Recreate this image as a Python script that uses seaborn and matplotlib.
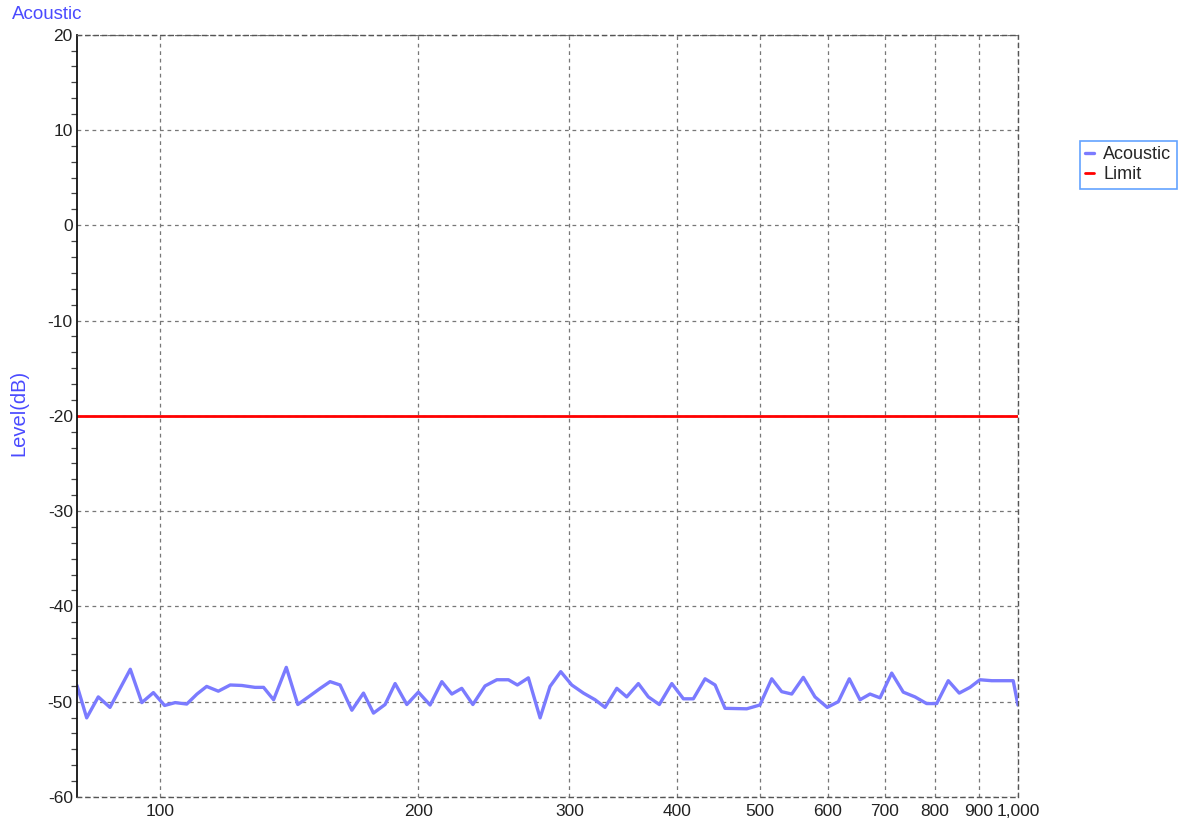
import matplotlib
matplotlib.use("Agg")
import matplotlib.pyplot as plt
from matplotlib.ticker import FixedLocator, FixedFormatter, MultipleLocator, NullLocator
import seaborn as sns
import pandas as pd

# Measured acoustic response (Hz, dB)
freq_hz = [80.0, 82.1, 84.7, 87.4, 92.3, 95.2, 98.2, 101.2, 104.1, 107.4,
           110.4, 113.3, 116.9, 120.7, 124.5, 129.0, 132.0, 135.6, 140.3, 144.7,
           148.9, 153.7, 157.8, 162.1, 167.3, 172.6, 177.3, 182.9, 187.9, 193.9,
           200.0, 206.4, 213.0, 218.8, 224.7, 231.5, 239.2, 246.9, 254.7, 260.9,
           268.7, 277.3, 284.8, 293.1, 301.9, 311.5, 321.4, 330.1, 340.7, 349.9,
           361.0, 370.8, 381.9, 394.9, 407.4, 418.4, 431.8, 443.6, 455.6, 482.9,
           500.3, 516.4, 530.4, 544.9, 562.1, 580.0, 599.4, 617.5, 636.0, 654.5,
           672.3, 690.6, 712.6, 735.1, 758.6, 782.7, 804.1, 829.5, 854.3, 879.3,
           903.1, 932.0, 987.4, 1000.0]
level_db = [-48.3, -51.7, -49.5, -50.6, -46.6, -50.1, -49.05, -50.4, -50.1, -50.25,
            -49.2, -48.4, -48.9, -48.25, -48.3, -48.5, -48.5, -49.8, -46.4, -50.3,
            -49.5, -48.6, -47.9, -48.25, -50.9, -49.1, -51.2, -50.3, -48.1, -50.3,
            -49.0, -50.35, -47.9, -49.2, -48.6, -50.3, -48.35, -47.7, -47.7, -48.25,
            -47.5, -51.7, -48.4, -46.85, -48.25, -49.1, -49.8, -50.6, -48.6, -49.5,
            -48.1, -49.5, -50.3, -48.1, -49.7, -49.7, -47.6, -48.25, -50.7, -50.75,
            -50.35, -47.6, -48.95, -49.2, -47.45, -49.5, -50.6, -50.0, -47.6, -49.8,
            -49.2, -49.6, -47.0, -49.0, -49.5, -50.2, -50.2, -47.8, -49.1, -48.5,
            -47.7, -47.8, -47.8, -50.35]

limit_db = -20.0
x_ticks = [100, 200, 300, 400, 500, 600, 700, 800, 900, 1000]
x_tick_labels = ["100", "200", "300", "400", "500", "600", "700", "800", "900", "1,000"]
y_ticks = [-60, -50, -40, -30, -20, -10, 0, 10, 20]

sns.set_style("white")
plt.rcParams["font.family"] = ["Liberation Sans", "DejaVu Sans"]
plt.rcParams["axes.unicode_minus"] = False

fig = plt.figure(figsize=(11.85, 8.25), dpi=100)
ax = fig.add_axes([0.065, 0.034, 0.794, 0.924])

df = pd.DataFrame({"Frequency": freq_hz, "Level": level_db})
sns.lineplot(data=df, x="Frequency", y="Level", ax=ax, color="#7B7BFF",
             linewidth=2.4, label="Acoustic")
ax.axhline(limit_db, color="#FF0000", linewidth=2.0, label="Limit")

ax.set_xscale("log")
ax.set_xlim(80, 1000)
ax.set_ylim(-60, 20)
ax.xaxis.set_major_locator(FixedLocator(x_ticks))
ax.xaxis.set_major_formatter(FixedFormatter(x_tick_labels))
ax.xaxis.set_minor_locator(NullLocator())
ax.yaxis.set_major_locator(FixedLocator(y_ticks))
ax.yaxis.set_minor_locator(MultipleLocator(10 / 6))

ax.tick_params(axis="both", which="major", labelsize=12.5, colors="#222222",
               length=0, pad=3)
ax.tick_params(axis="y", which="minor", length=4, width=0.9, color="#444444",
               direction="out", left=True)
ax.tick_params(axis="x", which="major", pad=5)

ax.grid(True, which="major", color="#777777", linestyle=(0, (3, 3)), linewidth=0.9)

for side in ["top", "right", "bottom"]:
    ax.spines[side].set_visible(True)
    ax.spines[side].set_linestyle((0, (3, 3)))
    ax.spines[side].set_color("#555555")
    ax.spines[side].set_linewidth(1.0)
ax.spines["left"].set_color("#111111")
ax.spines["left"].set_linewidth(1.3)

ax.set_xlabel("")
ax.set_ylabel("")

fig.text(0.010, 0.982, "Acoustic", color="#4A4AFF", fontsize=13.5, ha="left", va="center")
fig.text(0.016, 0.500, "Level(dB)", color="#4A4AFF", fontsize=14.5, rotation=90,
         ha="center", va="center")

leg = ax.legend(loc="upper left", bbox_to_anchor=(0.911, 0.829),
                bbox_transform=fig.transFigure, frameon=True, fancybox=False,
                fontsize=13, handlelength=0.5, handletextpad=0.5,
                borderpad=0.3, labelspacing=0.15, borderaxespad=0)
leg.get_frame().set_edgecolor("#3C8CFF")
leg.get_frame().set_linewidth(1.2)

fig.savefig("out.png", dpi=100)
